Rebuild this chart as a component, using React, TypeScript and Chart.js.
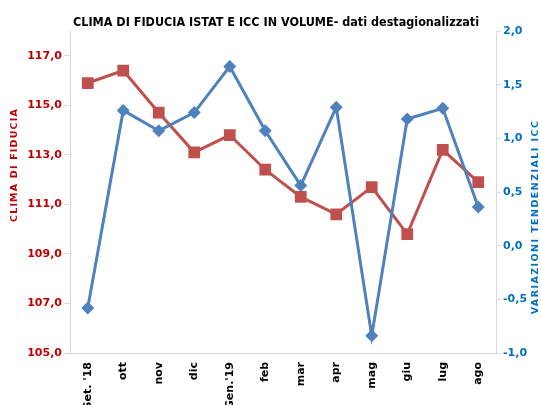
import React, { useEffect, useRef } from "react";
import { Chart, registerables } from "chart.js";

Chart.register(...registerables);

const categories = ["Set. '18", "ott", "nov", "dic", "Gen.'19", "feb", "mar", "apr", "mag", "giu", "lug", "ago"];
const climaFiducia = [115.9, 116.4, 114.7, 113.1, 113.8, 112.4, 111.3, 110.6, 111.7, 109.8, 113.2, 111.9];
const variazioniICC = [-0.58, 1.26, 1.07, 1.24, 1.67, 1.07, 0.56, 1.29, -0.84, 1.18, 1.28, 0.36];
const leftTicks = [105, 107, 109, 111, 113, 115, 117];
const rightTicks = [-1, -0.5, 0, 0.5, 1, 1.5, 2];

const TITLE = "CLIMA DI FIDUCIA ISTAT E ICC IN VOLUME- dati destagionalizzati";
const LEFT_TITLE = "CLIMA DI FIDUCIA";
const RIGHT_TITLE = "VARIAZIONI TENDENZIALI ICC";

const RED_TEXT = "#C00000";
const BLUE_TEXT = "#0070C0";
const RED = "#C0504D";
const BLUE = "#4F81BD";
const AXIS = "#D9D9D9";

const fmt = (v: number) => v.toFixed(1).replace(".", ",");

const textPlugin = {
  id: "texts",
  afterDraw(chart: any) {
    const ctx = chart.ctx;
    const ca = chart.chartArea;
    ctx.save();
    // title
    ctx.fillStyle = "#000";
    ctx.font = "bold 12.5px 'DejaVu Sans Condensed', 'DejaVu Sans', sans-serif";
    ctx.textAlign = "left";
    ctx.textBaseline = "alphabetic";
    ctx.fillText(TITLE, 73, 26, 406);
    // left axis title
    ctx.font = "bold 9.5px 'DejaVu Sans', sans-serif";
    (ctx as any).letterSpacing = "1.2px";
    ctx.fillStyle = RED_TEXT;
    ctx.textAlign = "center";
    ctx.translate(15, 165);
    ctx.rotate(-Math.PI / 2);
    ctx.textBaseline = "middle";
    ctx.fillText(LEFT_TITLE, 0, 0);
    ctx.restore();
    ctx.save();
    ctx.font = "bold 9.5px 'DejaVu Sans', sans-serif";
    (ctx as any).letterSpacing = "1.45px";
    ctx.fillStyle = BLUE_TEXT;
    ctx.textAlign = "center";
    ctx.textBaseline = "middle";
    ctx.translate(chart.width - 5, (ca.top + ca.bottom) / 2 + 25);
    ctx.rotate(-Math.PI / 2);
    ctx.fillText(RIGHT_TITLE, 0, 0);
    ctx.restore();
  },
};

export default function App() {
  const ref = useRef<HTMLCanvasElement | null>(null);
  useEffect(() => {
    document.body.style.margin = "0";
    if (!ref.current) return;
    const chart = new Chart(ref.current, {
      type: "line",
      data: {
        labels: categories,
        datasets: [
          {
            label: "ICC",
            data: variazioniICC,
            yAxisID: "y1",
            borderColor: BLUE,
            backgroundColor: BLUE,
            borderWidth: 3,
            pointStyle: "rectRot",
            pointRadius: 6.5,
            pointBorderWidth: 0,
            tension: 0,
          },
          {
            label: "Clima di fiducia",
            data: climaFiducia,
            yAxisID: "y",
            borderColor: RED,
            backgroundColor: RED,
            borderWidth: 3,
            pointStyle: "rect",
            pointRadius: 8.3,
            pointBorderWidth: 0,
            tension: 0,
          },
        ],
      },
      options: {
        animation: false,
        responsive: true,
        maintainAspectRatio: false,
        layout: { padding: { top: 31, left: 0, right: 0, bottom: 0 } },
        plugins: { legend: { display: false }, tooltip: { enabled: false }, title: { display: false } },
        scales: {
          x: {
            type: "category",
            offset: true,
            grid: { display: false, drawTicks: false },
            border: { display: true, color: AXIS, width: 1 },
            ticks: {
              minRotation: 90,
              maxRotation: 90,
              autoSkip: false,
              padding: 9,
              color: "#000",
              font: { family: "'DejaVu Sans', sans-serif", size: 11, weight: "bold" },
            },
            afterFit: (s: any) => { s.height = 52; },
          },
          y: {
            position: "left",
            min: 105,
            max: 118,
            afterBuildTicks: (s: any) => { s.ticks = leftTicks.map((v) => ({ value: v })); },
            grid: { drawOnChartArea: false, drawTicks: true, tickLength: 6, color: AXIS },
            border: { display: true, color: AXIS, width: 1 },
            ticks: {
              padding: 2,
              color: RED_TEXT,
              font: { family: "'DejaVu Sans', sans-serif", size: 11, weight: "bold" },
              callback: (v: any) => fmt(Number(v)),
            },
            afterFit: (s: any) => { s.width = 70; },
          },
          y1: {
            position: "right",
            min: -1,
            max: 2,
            afterBuildTicks: (s: any) => { s.ticks = rightTicks.map((v) => ({ value: v })); },
            grid: { drawOnChartArea: false, drawTicks: true, tickLength: 5, color: AXIS },
            border: { display: true, color: AXIS, width: 1 },
            ticks: {
              padding: 2,
              color: BLUE_TEXT,
              font: { family: "'DejaVu Sans', sans-serif", size: 11, weight: "bold" },
              callback: (v: any) => fmt(Number(v)),
            },
            afterFit: (s: any) => { s.width = 45; },
          },
        },
      },
      plugins: [textPlugin],
    });
    return () => chart.destroy();
  }, []);
  return (
    <div style={{ position: "absolute", left: 0, top: 0, width: 541, height: 405, background: "#fff" }}>
      <canvas ref={ref} />
    </div>
  );
}
